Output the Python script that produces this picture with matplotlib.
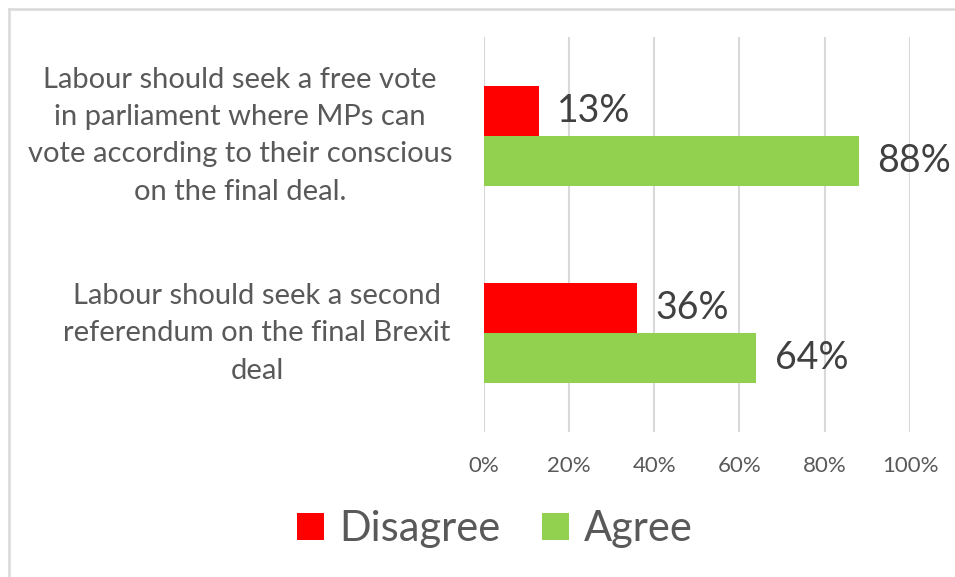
import matplotlib
matplotlib.use("Agg")
import matplotlib.pyplot as plt
from matplotlib.lines import Line2D
from matplotlib.transforms import blended_transform_factory

categories = [
    "Labour should seek a free vote\nin parliament where MPs can\nvote according to their conscious\non the final deal.",
    "Labour should seek a second\nreferendum on the final Brexit\ndeal",
]
series_names = ["Disagree", "Agree"]
disagree = [13, 36]
agree = [88, 64]
xticks = [0, 20, 40, 60, 80, 100]
xtick_labels = ["0%", "20%", "40%", "60%", "80%", "100%"]

colors = {"Disagree": "#FF0000", "Agree": "#92D050"}
plt.rcParams["font.family"] = ["Lato", "DejaVu Sans"]

W, H = 955, 577
fig = plt.figure(figsize=(W / 100, H / 100), dpi=100)
fig.patch.set_facecolor("white")

def fx(px):
    return px / W

def fy(py):
    return 1 - py / H

ax = fig.add_axes([fx(483.5), fy(432), fx(910) - fx(483.5), fy(37) - fy(432)])

bar_h = 0.254
for i, (d, a) in enumerate(zip(disagree, agree)):
    ax.barh(i - bar_h / 2, d, height=bar_h, color=colors["Disagree"], zorder=3,
            label="Disagree" if i == 0 else None)
    ax.barh(i + bar_h / 2, a, height=bar_h, color=colors["Agree"], zorder=3,
            label="Agree" if i == 0 else None)
    ax.annotate(f"{d}%", (d, i - bar_h / 2), xytext=(13, 0), textcoords="offset points",
                va="center", ha="left", fontsize=27, color="#404040")
    ax.annotate(f"{a}%", (a, i + bar_h / 2), xytext=(13, 0), textcoords="offset points",
                va="center", ha="left", fontsize=27, color="#404040")

ax.set_xlim(0, 100)
ax.set_ylim(len(categories) - 0.5, -0.5)
ax.set_xticks(xticks)
ax.set_xticklabels(xtick_labels)
ax.tick_params(axis="x", length=0, pad=17, labelsize=16, labelcolor="#595959")
ax.set_yticks([])
ax.grid(axis="x", color="#D9D9D9", linewidth=1.5, zorder=0)
for s in ax.spines.values():
    s.set_visible(False)

# category labels
trans = blended_transform_factory(fig.transFigure, ax.transData)
label_x = [240, 257]
for i, cat in enumerate(categories):
    ax.text(fx(label_x[i]), i, cat, transform=trans, ha="center", va="center",
            multialignment="center", fontsize=21, color="#595959", linespacing=1.54)

leg = fig.legend(loc="center", bbox_to_anchor=(fx(495), fy(529)), ncol=2, frameon=False,
                 fontsize=30, handlelength=0.64, handleheight=0.64, handletextpad=0.36,
                 columnspacing=1.0, labelcolor="#595959")

# chart border (top and left edges visible)
fig.add_artist(Line2D([fx(8.5), fx(8.5)], [fy(8.5), 0], transform=fig.transFigure,
                      color="#D9D9D9", linewidth=1.8))
fig.add_artist(Line2D([fx(8.5), 1], [fy(8.5), fy(8.5)], transform=fig.transFigure,
                      color="#D9D9D9", linewidth=1.8))

fig.savefig("out.png", dpi=100)
